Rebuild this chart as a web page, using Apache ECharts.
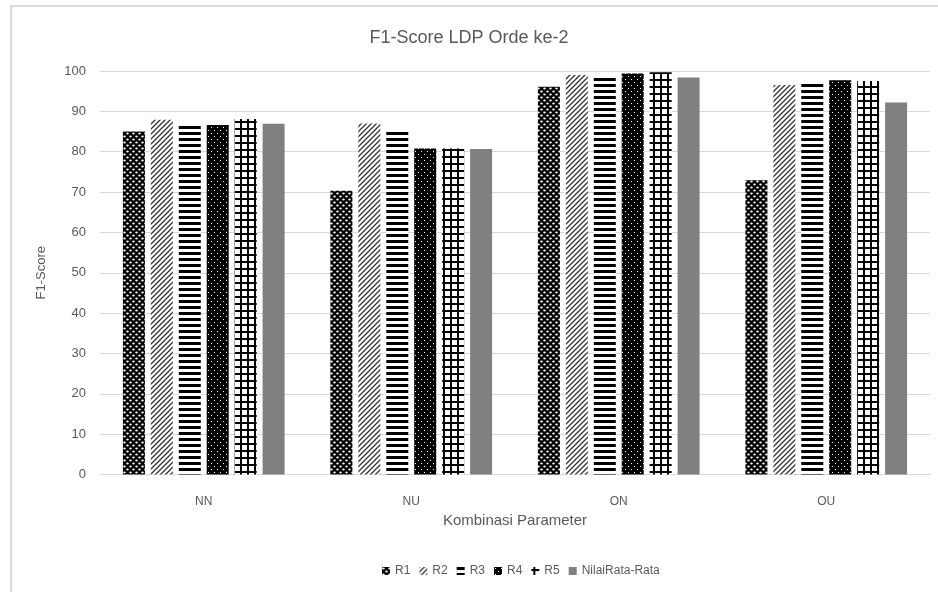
<!DOCTYPE html>
<html>
<head>
<meta charset="utf-8">
<script src="https://cdn.jsdelivr.net/npm/echarts@6/dist/echarts.min.js"></script>
<style>
html,body{margin:0;padding:0;background:#fff;}
#chart{width:938px;height:592px;}
#frame{position:absolute;left:10px;top:5px;width:940px;height:600px;border-left:2px solid #d9d9d9;border-top:2px solid #d9d9d9;pointer-events:none;}
</style>
</head>
<body>
<div id="chart"></div>
<div id="frame"></div>
<script>
const titleText = 'F1-Score LDP Orde ke-2';
const categories = ['NN', 'NU', 'ON', 'OU'];
const seriesNames = ['R1', 'R2', 'R3', 'R4', 'R5', 'NilaiRata-Rata'];
const R1 = [85.0, 70.3, 96.1, 72.9];
const R2 = [87.9, 87.0, 99.0, 96.5];
const R3 = [87.0, 85.4, 99.0, 97.3];
const R4 = [86.6, 80.8, 99.4, 97.7];
const R5 = [88.1, 80.8, 99.7, 97.5];
const AVG = [86.9, 80.7, 98.4, 92.2];
const yTicks = [0, 10, 20, 30, 40, 50, 60, 70, 80, 90, 100];
const xAxisTitle = 'Kombinasi Parameter';
const yAxisTitle = 'F1-Score';

function makePattern(w, h, draw) {
  const c = document.createElement('canvas');
  c.width = w; c.height = h;
  const g = c.getContext('2d');
  draw(g, w, h);
  return { image: c, repeat: 'repeat' };
}
const patR1 = makePattern(6, 6, (g) => {
  g.fillStyle = '#000'; g.fillRect(0, 0, 6, 6);
  g.fillStyle = '#fff';
  g.beginPath(); g.ellipse(1.5, 1.5, 1.3, 0.9, 0, 0, Math.PI * 2); g.fill();
  g.beginPath(); g.ellipse(4.5, 4.5, 1.3, 0.9, 0, 0, Math.PI * 2); g.fill();
});
const patR2 = makePattern(5, 5, (g) => {
  g.fillStyle = '#fff'; g.fillRect(0, 0, 5, 5);
  g.strokeStyle = '#333'; g.lineWidth = 1.3;
  g.beginPath();
  g.moveTo(-1, 6); g.lineTo(6, -1);
  g.moveTo(-1, 1); g.lineTo(1, -1);
  g.moveTo(4, 6); g.lineTo(6, 4);
  g.stroke();
});
const patR3 = makePattern(6, 6, (g) => {
  g.fillStyle = '#fff'; g.fillRect(0, 0, 6, 6);
  g.fillStyle = '#000'; g.fillRect(0, 0, 6, 3);
});
const patR4 = makePattern(6, 6, (g) => {
  g.fillStyle = '#000'; g.fillRect(0, 0, 6, 6);
  g.fillStyle = '#fff';
  g.fillRect(1, 1, 1, 1);
  g.fillRect(4, 4, 1, 1);
});
const patR5 = makePattern(7, 7, (g) => {
  g.fillStyle = '#fff'; g.fillRect(0, 0, 7, 7);
  g.fillStyle = '#000';
  g.fillRect(2, 0, 2, 7);
  g.fillRect(0, 2, 7, 2);
});
const colors = [patR1, patR2, patR3, patR4, patR5, '#808080'];
const dataArr = [R1, R2, R3, R4, R5, AVG];

const chart = echarts.init(document.getElementById('chart'), null, { renderer: 'canvas' });
const textColor = '#595959';
const fontFam = 'Liberation Sans, Arial, sans-serif';

const series = seriesNames.map((name, i) => ({
  name: name,
  type: 'bar',
  data: dataArr[i],
  barWidth: 22,
  barGap: '27%',
  itemStyle: { color: colors[i] },
  emphasis: { disabled: true }
}));

chart.setOption({
  animation: false,
  backgroundColor: '#fff',
  title: {
    text: titleText,
    left: 'center',
    top: 24,
    textStyle: { color: textColor, fontSize: 18, fontWeight: 'normal', fontFamily: fontFam }
  },
  legend: {
    data: seriesNames,
    bottom: 10,
    left: 377,
    itemWidth: 8,
    itemHeight: 8,
    itemGap: 9,
    textStyle: { color: textColor, fontSize: 12, fontFamily: fontFam },
    icon: 'rect'
  },
  grid: { left: 100, right: 8, top: 71, bottom: 117.5, containLabel: false },
  xAxis: {
    type: 'category',
    data: categories,
    name: xAxisTitle,
    nameLocation: 'middle',
    nameGap: 39,
    nameTextStyle: { color: textColor, fontSize: 15, fontFamily: fontFam },
    axisLine: { lineStyle: { color: '#d9d9d9', width: 1 } },
    axisTick: { show: false },
    axisLabel: { color: textColor, fontSize: 12, margin: 21, fontFamily: fontFam }
  },
  yAxis: {
    type: 'value',
    min: yTicks[0],
    max: yTicks[yTicks.length - 1],
    interval: yTicks[1] - yTicks[0],
    name: yAxisTitle,
    nameLocation: 'middle',
    nameGap: 52,
    nameTextStyle: { color: textColor, fontSize: 13, fontFamily: fontFam },
    axisLine: { show: false },
    axisTick: { show: false },
    splitLine: { lineStyle: { color: '#d9d9d9', width: 1 } },
    axisLabel: { color: textColor, fontSize: 13, margin: 14, fontFamily: fontFam }
  },
  series: series
});
</script>
</body>
</html>
